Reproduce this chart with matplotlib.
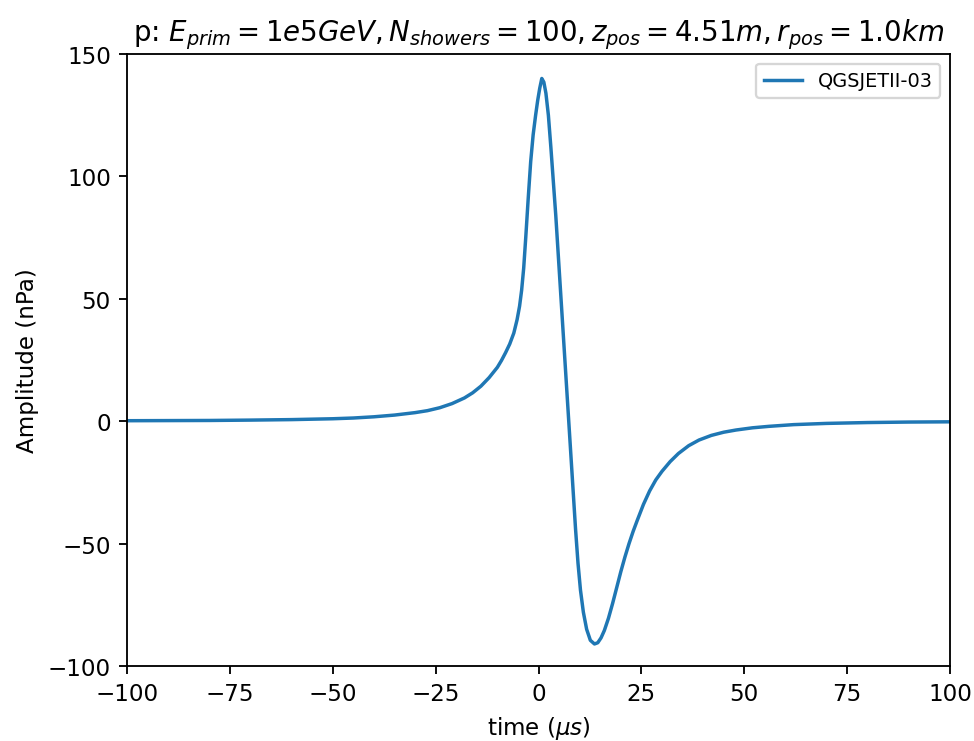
import matplotlib
matplotlib.use("Agg")
import matplotlib.pyplot as plt

time_us = [-100, -90, -80, -70, -60, -50, -45, -40, -35, -30, -27, -24, -21, -18,
           -16, -14, -12, -10, -9, -8, -7, -6, -5.2, -4.6, -4.1, -3.6, -3.1, -2.5, -1.9,
           -1.3, -0.7, -0.2, 0.3, 0.8, 1.3, 1.8, 2.4, 3.0, 3.6, 4.2, 4.8, 5.4,
           6.0, 6.6, 7.2, 7.8, 8.4, 9.0, 9.6, 10.2, 10.9, 11.7, 12.6, 13.6, 14.4,
           15.2, 16.0, 17.0, 18.0, 19.0, 20.0, 21.0, 22.0, 23.0, 24.0, 25.5, 27.0,
           28.5, 30.0, 32.0, 34.0, 36.5, 39.0, 42.0, 45.0, 48.0, 52.0, 56.0, 62.0,
           70.0, 80.0, 90.0, 100.0]
amplitude = [0.2, 0.25, 0.3, 0.45, 0.65, 1.0, 1.3, 1.8, 2.5, 3.5, 4.3, 5.5, 7.2, 9.5,
             11.6, 14.3, 17.8, 22.0, 24.8, 28.0, 31.5, 36.0, 41.5, 47.0, 53.5, 62.5, 75.0, 91.0, 106.0,
             117.0, 125.0, 131.0, 136.0, 140.0, 138.5, 134.0, 125.0, 112.0, 98.0, 84.0, 68.0, 52.0,
             36.0, 20.0, 4.0, -12.0, -28.0, -44.0, -58.0, -69.0, -78.0, -85.0, -89.5, -91.0, -90.5,
             -88.5, -85.5, -80.5, -74.5, -68.0, -61.5, -55.5, -50.0, -45.0, -40.5, -34.0, -28.5,
             -24.0, -20.5, -16.5, -13.2, -10.0, -7.7, -5.8, -4.5, -3.6, -2.7, -2.1, -1.4,
             -0.9, -0.55, -0.35, -0.25]
series_label = "QGSJETII-03"

dpi = 166
fig = plt.figure(figsize=(974 / dpi, 742 / dpi), dpi=dpi)
ax = fig.add_axes([127 / 974, (742 - 667) / 742, (950 - 127) / 974, (667 - 55) / 742])
ax.plot(time_us, amplitude, color="#1f77b4", label=series_label)
ax.set_xlim(-100, 100)
ax.set_ylim(-100, 150)
ax.set_xlabel(r"time ($\mu s$)")
ax.set_ylabel("Amplitude (nPa)")
ax.set_title(r"p: $E_{prim} = 1e5 GeV, N_{showers} = 100, z_{pos} = 4.51 m, r_{pos} = 1.0 km$")
ax.legend(loc="upper right", fontsize="small")
fig.savefig("out.png", dpi=dpi)
